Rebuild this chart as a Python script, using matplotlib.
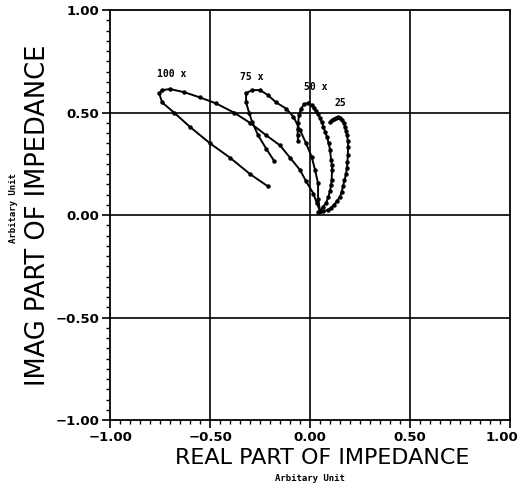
import matplotlib
matplotlib.use("Agg")
import matplotlib.pyplot as plt
import matplotlib.transforms as mtransforms
from matplotlib.ticker import MultipleLocator, FuncFormatter

# impedance loci (real, imag), starting at the common point
x100 = [0.05, 0.033, 0.017, -0.02, -0.05, -0.10, -0.15, -0.22, -0.30, -0.38, -0.47, -0.55,
        -0.63, -0.70, -0.74, -0.755, -0.74, -0.68, -0.60, -0.50, -0.40, -0.30, -0.21]
y100 = [0.02, 0.06, 0.105, 0.165, 0.22, 0.28, 0.34, 0.39, 0.45, 0.50, 0.545, 0.574,
        0.60, 0.615, 0.61, 0.595, 0.55, 0.50, 0.43, 0.35, 0.28, 0.20, 0.14]

x75 = [0.05, 0.04, 0.04, 0.025, 0.008, -0.02, -0.05, -0.083, -0.12, -0.17, -0.21, -0.25,
       -0.29, -0.32, -0.32, -0.305, -0.29, -0.26, -0.22, -0.18]
y75 = [0.02, 0.08, 0.155, 0.22, 0.285, 0.35, 0.415, 0.48, 0.52, 0.55, 0.585, 0.61,
       0.61, 0.595, 0.55, 0.50, 0.455, 0.39, 0.325, 0.265]

x50 = [0.05, 0.065, 0.08, 0.092, 0.10, 0.105, 0.108, 0.11, 0.109, 0.105, 0.10, 0.093,
       0.085, 0.076, 0.067, 0.058, 0.05, 0.04, 0.03, 0.02, 0.01, -0.008, -0.03, -0.045,
       -0.055, -0.06, -0.062, -0.062, -0.06]
y50 = [0.02, 0.04, 0.06, 0.09, 0.12, 0.145, 0.17, 0.22, 0.245, 0.27, 0.32, 0.35,
       0.38, 0.405, 0.43, 0.455, 0.475, 0.495, 0.51, 0.525, 0.535, 0.548, 0.54, 0.52,
       0.49, 0.45, 0.42, 0.39, 0.36]

x25 = [0.04, 0.065, 0.09, 0.105, 0.12, 0.135, 0.15, 0.158, 0.165, 0.172, 0.18, 0.184,
       0.187, 0.189, 0.19, 0.189, 0.185, 0.18, 0.175, 0.168, 0.16, 0.15, 0.14, 0.13,
       0.12, 0.11, 0.10]
y25 = [0.016, 0.02, 0.025, 0.037, 0.05, 0.07, 0.09, 0.115, 0.14, 0.17, 0.20, 0.23,
       0.26, 0.295, 0.33, 0.36, 0.39, 0.41, 0.43, 0.45, 0.465, 0.475, 0.477, 0.476,
       0.47, 0.463, 0.455]

labels = ["100 x", "75 x", "50 x", "25"]
label_pos = [(-0.69, 0.69), (-0.29, 0.675), (0.03, 0.625), (0.15, 0.545)]

fig = plt.figure(figsize=(5.22, 4.84), dpi=100)
ax = fig.add_axes([0.211, 0.132, 0.766, 0.847])

# grid lines through the major ticks
for v in [-0.5, 0.0, 0.5]:
    ax.axhline(v, color="black", lw=1.2, zorder=1)
    ax.axvline(v, color="black", lw=1.2, zorder=1)

for xs, ys in [(x100, y100), (x75, y75), (x50, y50), (x25, y25)]:
    ax.plot(xs, ys, color="black", lw=1.4, marker="o", ms=2.2, zorder=3)

for txt, (lx, ly) in zip(labels, label_pos):
    ax.text(lx, ly, txt, fontsize=7, fontweight="bold", family="DejaVu Sans Mono",
            ha="center", va="center")

# two decimals, real minus sign
fmt = FuncFormatter(lambda v, pos: ("%.2f" % v).replace("-", "\u2212"))

ax.set_xlim(-1, 1)
ax.set_ylim(-1, 1)
ax.xaxis.set_major_locator(MultipleLocator(0.5))
ax.yaxis.set_major_locator(MultipleLocator(0.5))
ax.xaxis.set_minor_locator(MultipleLocator(0.05))
ax.yaxis.set_minor_locator(MultipleLocator(0.05))
ax.xaxis.set_major_formatter(fmt)
ax.yaxis.set_major_formatter(fmt)
ax.tick_params(which="major", direction="out", length=6, width=1.2, labelsize=9.5, pad=2)
ax.tick_params(which="minor", direction="out", length=3, width=1)
for sp in ax.spines.values():
    sp.set_linewidth(1.3)

ax.set_xlabel("REAL PART OF IMPEDANCE", fontsize=16)
ax.xaxis.set_label_coords(0.53, -0.093, transform=ax.transAxes)
ax.xaxis.label.set_va("center")
ax.set_ylabel("IMAG PART OF IMPEDANCE", fontsize=18.5, labelpad=3)
fig.text(0.594, 0.002, "Arbitary Unit", fontsize=6.5, fontweight="bold",
         family="DejaVu Sans Mono", ha="center", va="bottom")
fig.text(0.025, 0.57, "Arbitary Unit", fontsize=6.5, fontweight="bold",
         family="DejaVu Sans Mono", ha="center", va="center", rotation=90)

fig.canvas.draw()
for lab in ax.get_xticklabels() + ax.get_yticklabels():
    lab.set_fontweight("bold")
# pull the "1.00" x label in a bit so it stays on the page
for tick in ax.xaxis.get_major_ticks():
    if tick.label1.get_text() == "1.00":
        tick.label1.set_transform(tick.label1.get_transform() +
                                  mtransforms.ScaledTranslation(-6 / 72, 0, fig.dpi_scale_trans))

plt.savefig("out.png", dpi=100)
